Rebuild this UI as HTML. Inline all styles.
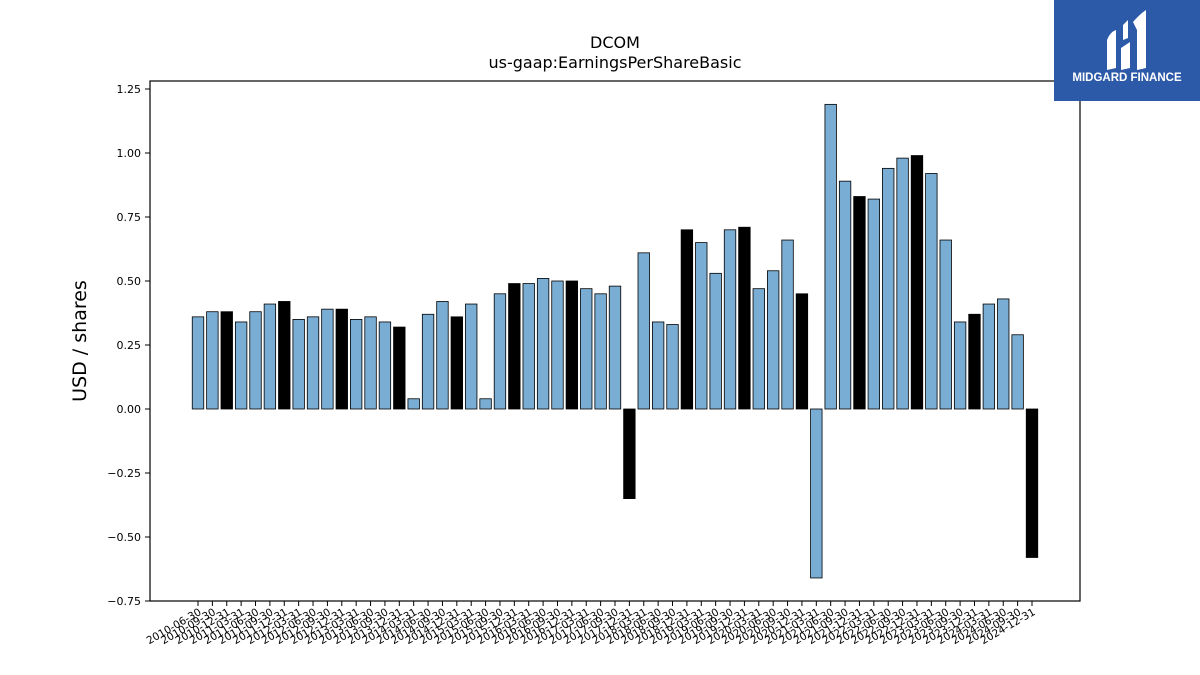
<!DOCTYPE html>
<html><head><meta charset="utf-8"><style>
body{margin:0;background:#fff;width:1200px;height:675px;overflow:hidden;font-family:"Liberation Sans","DejaVu Sans",sans-serif}
svg{position:absolute;left:0;top:0}
</style></head><body>
<svg id="chart" width="1200" height="675" xmlns="http://www.w3.org/2000/svg">
<text x="615" y="48" text-anchor="middle" font-size="16" font-family="DejaVu Sans, sans-serif">DCOM</text>
<text x="615" y="68" text-anchor="middle" font-size="16" font-family="DejaVu Sans, sans-serif">us-gaap:EarningsPerShareBasic</text>
<text transform="translate(86,341) rotate(-90)" text-anchor="middle" font-size="19" font-family="DejaVu Sans, sans-serif">USD / shares</text>
<g id="bars"></g><g id="yaxis"></g><g id="xaxis"></g>
<rect x="150" y="81" width="930" height="520" fill="none" stroke="#000" stroke-width="1.2"/>
<g>
<rect x="1054" y="0" width="146" height="101" fill="#2c5aa9"/>
<path d="M1107 70 L1107 40 Q1110 32 1116 30 L1116 68 Z M1121 48 L1130 42 L1130 68 L1121 70 Z M1123 25 L1128 20 L1128 38 L1123 40 Z M1133 22 Q1140 14 1146 10 L1146 68 L1137 70 L1137 30 Z" fill="#fff"/>
<text x="1127" y="81" text-anchor="middle" font-size="11.5" font-weight="bold" fill="#fff">MIDGARD FINANCE</text>
</g>
</svg>
<script>
const categories=[];
(function(){const q=['03-31','06-30','09-30','12-31'];for(let y=2010;y<=2024;y++)for(let k=0;k<4;k++){if(y===2010&&k===0)continue;categories.push(y+'-'+q[k]);}})();
const values=[0.36,0.38,0.38,0.34,0.38,0.41,0.42,0.35,0.36,0.39,0.39,0.35,0.36,0.34,0.32,0.04,0.37,0.42,0.36,0.41,0.04,0.45,0.49,0.49,0.51,0.50,0.50,0.47,0.45,0.48,-0.35,0.61,0.34,0.33,0.70,0.65,0.53,0.70,0.71,0.47,0.54,0.66,0.45,-0.66,1.19,0.89,0.83,0.82,0.94,0.98,0.99,0.92,0.66,0.34,0.37,0.41,0.43,0.29,-0.58];
const yTicks=[-0.75,-0.5,-0.25,0,0.25,0.5,0.75,1.0,1.25];
const yLabels=['\u22120.75','\u22120.50','\u22120.25','0.00','0.25','0.50','0.75','1.00','1.25'];
const NS='http://www.w3.org/2000/svg';
const y=v=>409-v*256;
const step=(1032-198)/(categories.length-1);
const x=i=>198+i*step;
const bw=step*0.8;
const bars=document.getElementById('bars'),ya=document.getElementById('yaxis'),xa=document.getElementById('xaxis');
values.forEach((v,i)=>{
 const r=document.createElementNS(NS,'rect');
 
 
 r.setAttribute('x',x(i)-bw/2);r.setAttribute('width',bw);
 r.setAttribute('y',Math.min(y(v),y(0)));r.setAttribute('height',Math.abs(y(v)-y(0)));
 r.setAttribute('fill',categories[i].endsWith('12-31')?'#000':'#7aadd3');
 r.setAttribute('stroke','#000');r.setAttribute('stroke-width','0.8');
 bars.appendChild(r);
});
yTicks.forEach((t,i)=>{
 const l=document.createElementNS(NS,'line');
 
 
 l.setAttribute('x1',145);l.setAttribute('x2',150);l.setAttribute('y1',y(t));l.setAttribute('y2',y(t));l.setAttribute('stroke','#000');
 ya.appendChild(l);
 const tx=document.createElementNS(NS,'text');
 
 
 tx.setAttribute('x',141);tx.setAttribute('y',y(t)+4);tx.setAttribute('text-anchor','end');tx.setAttribute('font-size','11');tx.setAttribute('font-family','DejaVu Sans, sans-serif');
 tx.textContent=yLabels[i];ya.appendChild(tx);
});
categories.forEach((c,i)=>{
 const l=document.createElementNS(NS,'line');
 
 
 l.setAttribute('x1',x(i));l.setAttribute('x2',x(i));l.setAttribute('y1',601);l.setAttribute('y2',606);l.setAttribute('stroke','#000');
 xa.appendChild(l);
 const tx=document.createElementNS(NS,'text');
 
 
 tx.setAttribute('transform','translate('+(x(i)+4)+',614) rotate(-30)');
 tx.setAttribute('text-anchor','end');tx.setAttribute('font-size','10.5');tx.setAttribute('font-family','DejaVu Sans, sans-serif');
 tx.textContent=c;xa.appendChild(tx);
});
</script>
</body></html>
